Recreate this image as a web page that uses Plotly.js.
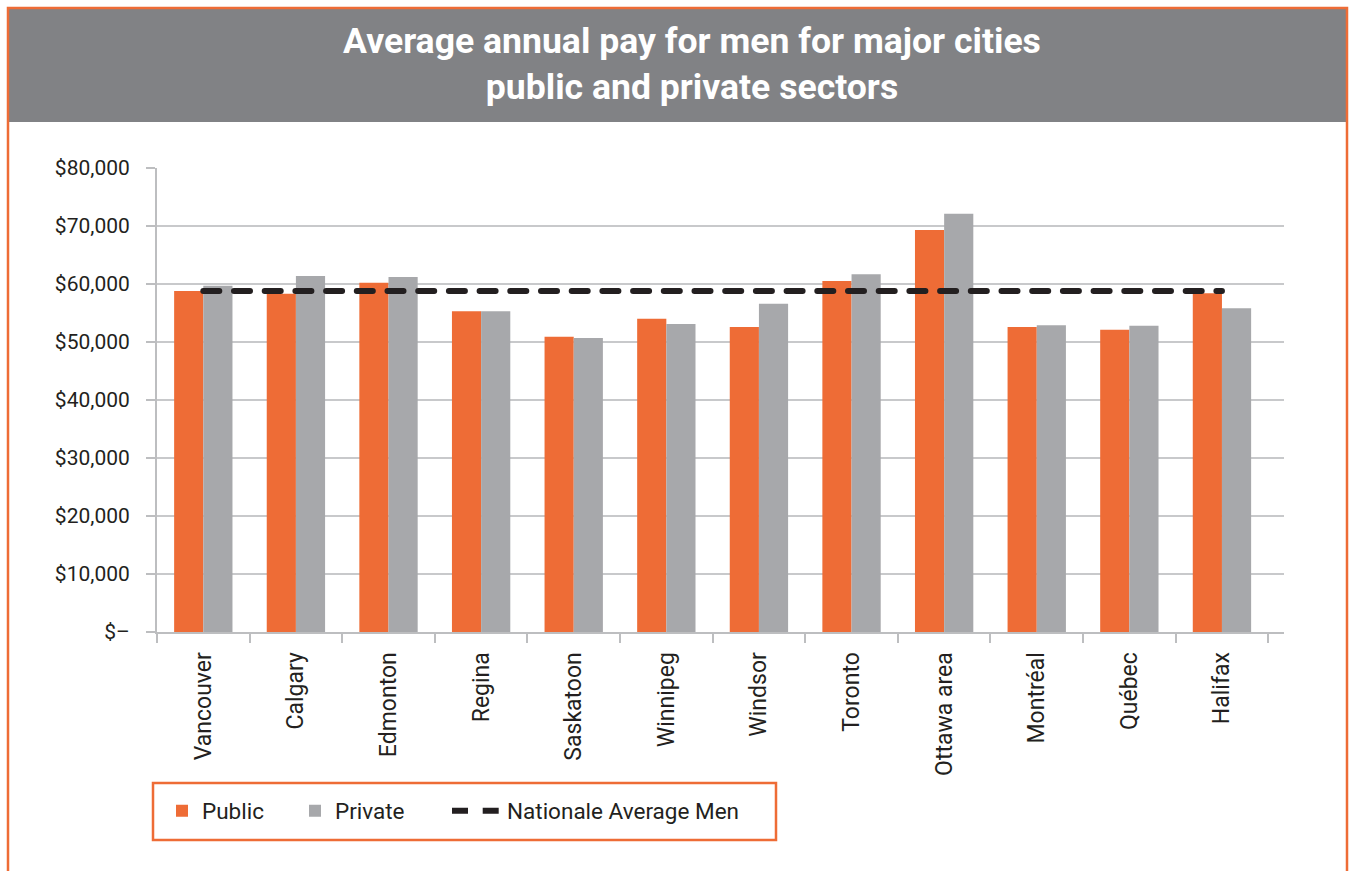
<!DOCTYPE html>
<html>
<head>
<meta charset="utf-8">
<script src="https://cdn.plot.ly/plotly-3.0.1.min.js"></script>
<style>
  html, body { margin: 0; padding: 0; background: #ffffff; }
  #chart { width: 1349px; height: 871px; }
  .scatterlayer .js-line, .legend .js-line { stroke-linecap: round !important; }
</style>
</head>
<body>
<div id="chart"></div>
<script>
const cities = ["Vancouver", "Calgary", "Edmonton", "Regina", "Saskatoon", "Winnipeg", "Windsor", "Toronto", "Ottawa area", "Montréal", "Québec", "Halifax"];
const publicPay = [58800, 58300, 60200, 55300, 50900, 54000, 52600, 60500, 69300, 52600, 52100, 58400];
const privatePay = [59700, 61400, 61200, 55300, 50700, 53100, 56600, 61700, 72100, 52900, 52800, 55800];
const nationalAverageMen = 58800;
const yTickVals = [0, 10000, 20000, 30000, 40000, 50000, 60000, 70000, 80000];
const yTickText = ["$–", "$10,000", "$20,000", "$30,000", "$40,000", "$50,000", "$60,000", "$70,000", "$80,000"];
const chartTitle = "Average annual pay for men for major cities<br>public and private sectors";

const W = 1349, H = 871;
const mL = 157, mR = 65, mT = 168, mB = 239;
const pw = W - mL - mR, ph = H - mT - mB;
const px = x => (x - mL) / pw;
const py = y => (H - mB - y) / ph;

const FONT = "Roboto, 'DejaVu Sans', sans-serif";
const ORANGE = "#ee6c36";
const GRAY = "#a7a8ab";
const LEGEND_FONT = { family: FONT, size: 22.5, color: "#231f20" };

const traces = [
  {
    type: "bar", name: "Public", x: cities, y: publicPay,
    marker: { color: ORANGE }, hoverinfo: "x+y", legend: "legend"
  },
  {
    type: "bar", name: "Private", x: cities, y: privatePay,
    marker: { color: GRAY }, hoverinfo: "x+y", legend: "legend2"
  },
  {
    type: "scatter", mode: "lines", name: "Nationale Average Men",
    x: cities, y: cities.map(() => nationalAverageMen),
    line: { color: "#231f20", width: 6, dash: "16px,14.7px" }, legend: "legend3"
  }
];

function legendAt(left, itemwidth) {
  return {
    orientation: "h",
    x: px(left), y: py(811), xanchor: "left", yanchor: "middle",
    borderwidth: 0, bgcolor: "rgba(0,0,0,0)",
    font: LEGEND_FONT, itemwidth: itemwidth
  };
}

const layout = {
  width: W, height: H,
  margin: { l: mL, r: mR, t: mT, b: mB },
  paper_bgcolor: "#ffffff",
  plot_bgcolor: "#ffffff",
  font: { family: FONT, color: "#231f20", size: 20 },
  barmode: "group",
  bargap: 0.37,
  bargroupgap: 0,
  showlegend: true,
  title: {
    text: chartTitle,
    font: { family: FONT, size: 35.6, color: "#ffffff", weight: "bold" },
    xref: "container", yref: "container",
    x: 692 / W, y: 1 - 53 / H, xanchor: "center", yanchor: "middle"
  },
  xaxis: {
    type: "category",
    range: [-0.5, 11.67],
    tickangle: -90,
    ticks: "outside", tickson: "boundaries", ticklen: 9, tickwidth: 2, tickcolor: "#bdbec0",
    showline: true, linecolor: "#bdbec0", linewidth: 2,
    showgrid: false,
    tickfont: { family: FONT, size: 23, color: "#231f20" },
    ticklabelstandoff: 9
  },
  yaxis: {
    range: [0, 80000],
    tickvals: yTickVals, ticktext: yTickText,
    ticks: "outside", ticklen: 9, tickwidth: 2, tickcolor: "#bdbec0",
    showline: true, linecolor: "#bdbec0", linewidth: 2,
    showgrid: true, gridcolor: "#c8c9cb", gridwidth: 2,
    zeroline: false,
    tickfont: { family: FONT, size: 21, color: "#231f20" },
    ticklabelstandoff: 12
  },
  legend: legendAt(162, 30),
  legend2: legendAt(295, 30),
  legend3: legendAt(447, 50),
  shapes: [
    {
      type: "rect", xref: "paper", yref: "paper", layer: "below",
      x0: px(9), x1: px(1346), y0: py(122), y1: py(9),
      fillcolor: "#818285", line: { width: 0 }
    },
    {
      type: "rect", xref: "paper", yref: "paper", layer: "above",
      x0: px(8), x1: px(1347), y0: py(900), y1: py(8),
      fillcolor: "rgba(0,0,0,0)", line: { color: ORANGE, width: 2.5 }
    },
    {
      type: "rect", xref: "paper", yref: "paper", layer: "above",
      x0: px(153), x1: px(776), y0: py(840), y1: py(783),
      fillcolor: "rgba(0,0,0,0)", line: { color: ORANGE, width: 2.5 }
    }
  ]
};

Plotly.newPlot("chart", traces, layout, { displayModeBar: false });
</script>
</body>
</html>
